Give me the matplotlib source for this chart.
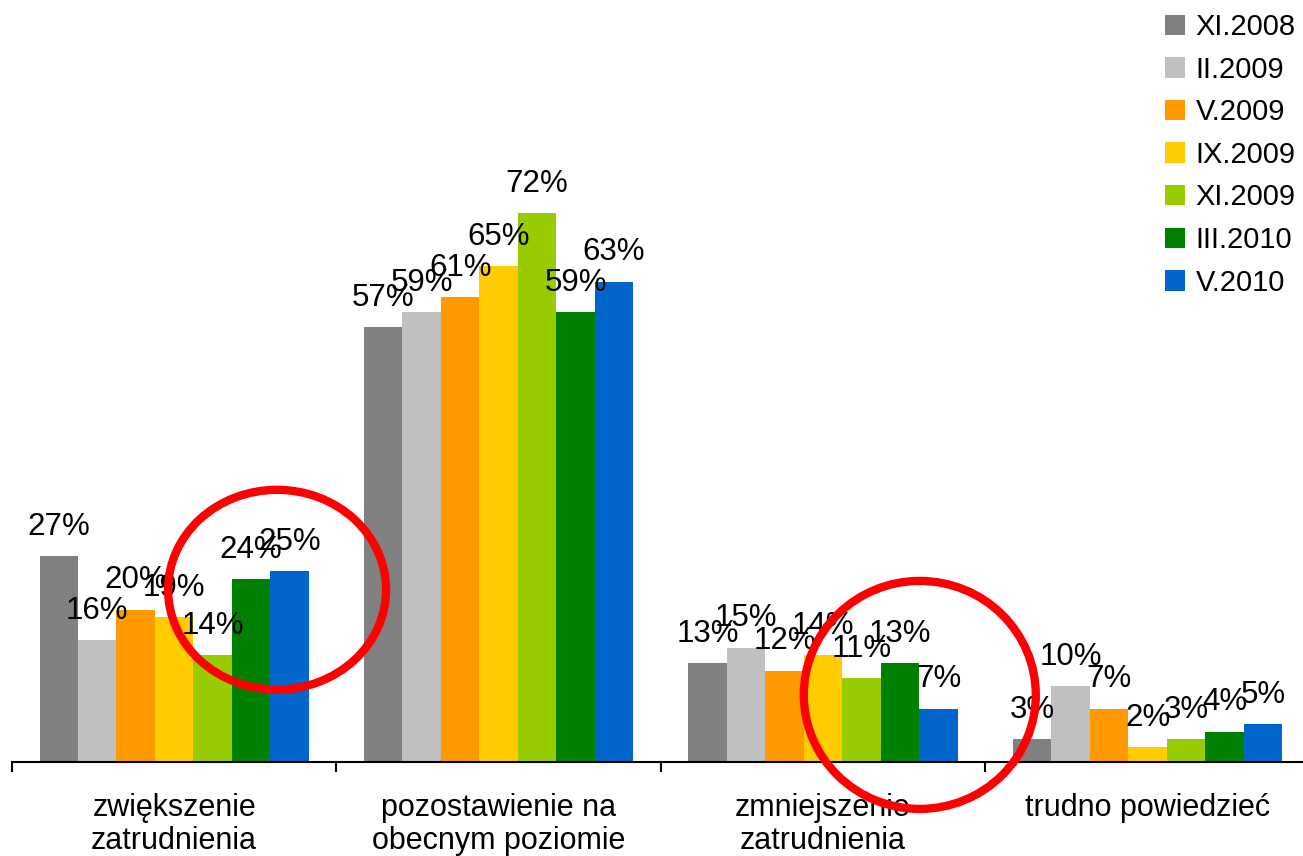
import numpy as np
import matplotlib
matplotlib.use('Agg')
import matplotlib.pyplot as plt
from matplotlib.patches import Ellipse, Patch

plt.rcParams['font.family'] = ['Liberation Sans', 'DejaVu Sans']

categories = ['zwiększenie\nzatrudnienia', 'pozostawienie na\nobecnym poziomie',
              'zmniejszenie\nzatrudnienia', 'trudno powiedzieć']
series = ['XI.2008', 'II.2009', 'V.2009', 'IX.2009', 'XI.2009', 'III.2010', 'V.2010']
colors = ['#808080', '#C0C0C0', '#FF9900', '#FFCC00', '#99CC00', '#008000', '#0066CC']

xi_2008 = [27, 57, 13, 3]
ii_2009 = [16, 59, 15, 10]
v_2009 = [20, 61, 12, 7]
ix_2009 = [19, 65, 14, 2]
xi_2009 = [14, 72, 11, 3]
iii_2010 = [24, 59, 13, 4]
v_2010 = [25, 63, 7, 5]
values = [xi_2008, ii_2009, v_2009, ix_2009, xi_2009, iii_2010, v_2010]

fig = plt.figure(figsize=(13.03, 8.56), dpi=100)
ax = fig.add_axes([0.0092, 0.1098, 0.996, 0.7126])

x = np.arange(len(categories)) + 0.5
w = 0.1186
for i, (vals, c) in enumerate(zip(values, colors)):
    pos = x + (i - 3) * w
    ax.bar(pos, vals, width=w, color=c, zorder=2)
    for px, v in zip(pos, vals):
        ax.annotate(f'{v}%', (px, v), xytext=(0, 21), textcoords='offset points',
                    ha='center', va='center', fontsize=22.5, zorder=3)

ax.set_xlim(0, 4)
ax.set_ylim(0, 80)
ax.set_yticks([])
for s in ['top', 'right', 'left']:
    ax.spines[s].set_visible(False)
ax.spines['bottom'].set_linewidth(1.5)

ax.set_xticks(np.arange(0, 5))
ax.set_xticklabels([])
ax.tick_params(axis='x', length=7, width=1.5, direction='out')
for xc, lab in zip(x, categories):
    ax.text(xc, -4.0, lab, ha='center', va='top', fontsize=22, linespacing=1.15)

# red circles
ax.add_patch(Ellipse((0.817, 22.6), 0.672, 26.2, fill=False, edgecolor='#FF0000',
                     linewidth=6, zorder=5, clip_on=False))
ax.add_patch(Ellipse((2.798, 8.8), 0.715, 29.9, fill=False, edgecolor='#FF0000',
                     linewidth=6, zorder=5, clip_on=False))

handles = [Patch(facecolor=c, edgecolor='none') for c in colors]
fig.legend(handles, series, loc='upper left', bbox_to_anchor=(0.876, 1.012),
           frameon=False, fontsize=21, handlelength=0.7, handleheight=0.7,
           handletextpad=0.35, labelspacing=0.5, borderpad=0.3)

fig.savefig('out.png', dpi=100)
